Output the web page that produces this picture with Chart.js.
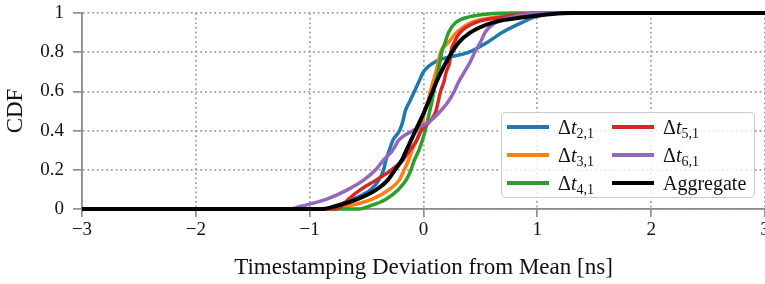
<!DOCTYPE html>
<html lang="en-US">
    <head>
        <title>CDF_Deviation</title>
        <script src="https://cdn.jsdelivr.net/npm/chart.js@4/dist/chart.umd.min.js"></script>
        <style>
            body{
                margin: 0;
                background-color: white;
                overflow: hidden;
            }
            #wrap{
                position: relative;
                width: 765px;
                height: 284px;
            }
            #legend{
                position: absolute;
                left: 501px;
                top: 112px;
                width: 254px;
                height: 86px;
                box-sizing: border-box;
                border: 1.5px solid #cccccc;
                border-radius: 4px;
                background: rgba(255,255,255,0.8);
                display: grid;
                grid-template-columns: 105px auto;
                grid-template-rows: repeat(3, 28px);
                grid-auto-flow: column;
                padding: 0 0 0 5px;
                font-family: "Liberation Serif", serif;
                font-size: 20px;
                color: #111;
            }
            .item{
                display: flex;
                align-items: center;
                white-space: nowrap;
            }
            .swatch{
                display: inline-block;
                width: 42px;
                height: 3.5px;
                margin-right: 9px;
            }
            .item sub{
                font-size: 14px;
                vertical-align: -4px;
                line-height: 0;
            }
        </style>
    </head>
    <body>
        <div id="wrap">
            <canvas id="chart-0" width="765" height="284"></canvas>
            <div id="legend"></div>
        </div>

        <script>
            // CDF levels and the deviation (ns) at each level
            var cdfLevels = [0, 0.01, 0.05, 0.1, 0.15, 0.2, 0.25, 0.3, 0.35, 0.4, 0.45, 0.5,
                             0.55, 0.6, 0.65, 0.7, 0.75, 0.8, 0.85, 0.9, 0.95, 0.98, 1];

            var dt21 = [-0.87, -0.8, -0.62, -0.46, -0.39, -0.35, -0.33, -0.3, -0.27, -0.21, -0.18, -0.16,
                        -0.12, -0.08, -0.04, 0.0, 0.1, 0.40, 0.56, 0.69, 0.86, 0.98, 1.2];
            var dt31 = [-0.78, -0.7, -0.45, -0.3, -0.21, -0.17, -0.13, -0.1, -0.06, -0.03, -0.005, 0.01,
                        0.04, 0.06, 0.085, 0.11, 0.13, 0.15, 0.22, 0.29, 0.41, 0.65, 1.1];
            var dt41 = [-0.56, -0.5, -0.33, -0.22, -0.15, -0.11, -0.08, -0.04, -0.01, 0.015, 0.035, 0.055,
                        0.075, 0.09, 0.11, 0.13, 0.145, 0.16, 0.19, 0.22, 0.28, 0.4, 0.8];
            var dt51 = [-0.78, -0.73, -0.66, -0.55, -0.41, -0.28, -0.18, -0.12, -0.06, -0.02, 0.06, 0.11,
                        0.13, 0.15, 0.18, 0.2, 0.23, 0.24, 0.27, 0.32, 0.45, 0.7, 1.0];
            var dt61 = [-1.17, -1.1, -0.85, -0.66, -0.52, -0.42, -0.35, -0.27, -0.22, -0.09, 0.06, 0.15,
                        0.22, 0.27, 0.31, 0.36, 0.41, 0.45, 0.5, 0.54, 0.63, 0.78, 1.0];
            var aggregate = [-0.9, -0.8, -0.58, -0.41, -0.31, -0.25, -0.19, -0.15, -0.11, -0.07, -0.03, 0.01,
                             0.045, 0.08, 0.115, 0.155, 0.2, 0.25, 0.31, 0.41, 0.6, 0.9, 1.3];

            var xTicks = [-3, -2, -1, 0, 1, 2, 3];
            var yTicks = [0, 0.2, 0.4, 0.6, 0.8, 1];

            var seriesNames = ['Δ<i>t</i><sub>2,1</sub>', 'Δ<i>t</i><sub>3,1</sub>', 'Δ<i>t</i><sub>4,1</sub>',
                               'Δ<i>t</i><sub>5,1</sub>', 'Δ<i>t</i><sub>6,1</sub>', 'Aggregate'];
            var seriesData = [dt21, dt31, dt41, dt51, dt61, aggregate];
            var seriesColors = ['#1f77b4', '#ff7f0e', '#2ca02c', '#d62728', '#9467bd', '#000000'];
            var drawOrder = [5, 4, 3, 2, 1, 0];

            function toPoints(q)
            {
                var pts = [{x: -3, y: 0}];
                for(var i = 0; i < cdfLevels.length; i++) {
                    pts.push({x: q[i], y: cdfLevels[i]});
                }
                pts.push({x: 3, y: 1});
                return pts;
            }

            var datasets = [];
            for(var i = 0; i < seriesData.length; i++) {
                datasets.push({
                    label: seriesNames[i],
                    data: toPoints(seriesData[i]),
                    borderColor: seriesColors[i],
                    backgroundColor: seriesColors[i],
                    borderWidth: i == 5 ? 4 : 3.5,
                    pointRadius: 0,
                    cubicInterpolationMode: 'monotone',
                    showLine: true,
                    clip: false,
                    order: drawOrder[i]
                });
            }

            var fontFam = '"Liberation Serif", serif';
            var gray = '#8a8a8a';

            var chart = new Chart('chart-0', {
                type: 'scatter',
                data: { datasets: datasets },
                options: {
                    responsive: false,
                    animation: false,
                    layout: { padding: { top: 13, right: 0, bottom: 0, left: 0 } },
                    plugins: { legend: { display: false }, tooltip: { enabled: false } },
                    scales: {
                        x: {
                            type: 'linear',
                            min: -3,
                            max: 3,
                            afterBuildTicks: function(s) { s.ticks = xTicks.map(function(v) { return {value: v}; }); },
                            afterFit: function(s) { s.height = 75; s.paddingRight = 0; s.paddingLeft = 0; },
                            ticks: {
                                padding: 2,
                                color: '#111',
                                font: { family: fontFam, size: 19 },
                                callback: function(v) { return v < 0 ? '\u2212' + Math.abs(v) : '' + v; }
                            },
                            grid: {
                                color: '#9a9a9a',
                                lineWidth: 1.7,
                                tickLength: 8,
                                tickColor: gray,
                                tickWidth: 1.6,
                                tickBorderDash: []
                            },
                            border: { color: gray, width: 1.8, dash: [1.7, 3] },
                            title: {
                                display: true,
                                text: 'Timestamping Deviation from Mean [ns]',
                                color: '#111',
                                font: { family: fontFam, size: 23 },
                                padding: { top: 0, bottom: 2 }
                            }
                        },
                        y: {
                            type: 'linear',
                            min: 0,
                            max: 1,
                            afterBuildTicks: function(s) { s.ticks = yTicks.map(function(v) { return {value: v}; }); },
                            afterFit: function(s) { s.width = 82; s.paddingTop = 0; s.paddingBottom = 0; },
                            ticks: {
                                padding: 9,
                                color: '#111',
                                font: { family: fontFam, size: 19 },
                                callback: function(v) { return '' + v; }
                            },
                            grid: {
                                color: '#9a9a9a',
                                lineWidth: 1.7,
                                tickLength: 9,
                                tickColor: gray,
                                tickWidth: 1.6,
                                tickBorderDash: []
                            },
                            border: { color: gray, width: 1.8, dash: [1.7, 3] },
                            title: {
                                display: true,
                                text: 'CDF',
                                color: '#111',
                                font: { family: fontFam, size: 23 },
                                padding: { top: 2, bottom: 0 }
                            }
                        }
                    }
                }
            });

            var legend = document.getElementById('legend');
            for(var k = 0; k < seriesNames.length; k++) {
                var item = document.createElement('div');
                item.className = 'item';
                item.innerHTML = '<span class="swatch" style="background:' + seriesColors[k] + '"></span><span>' + seriesNames[k] + '</span>';
                legend.appendChild(item);
            }
        </script>
    </body>
</html>
